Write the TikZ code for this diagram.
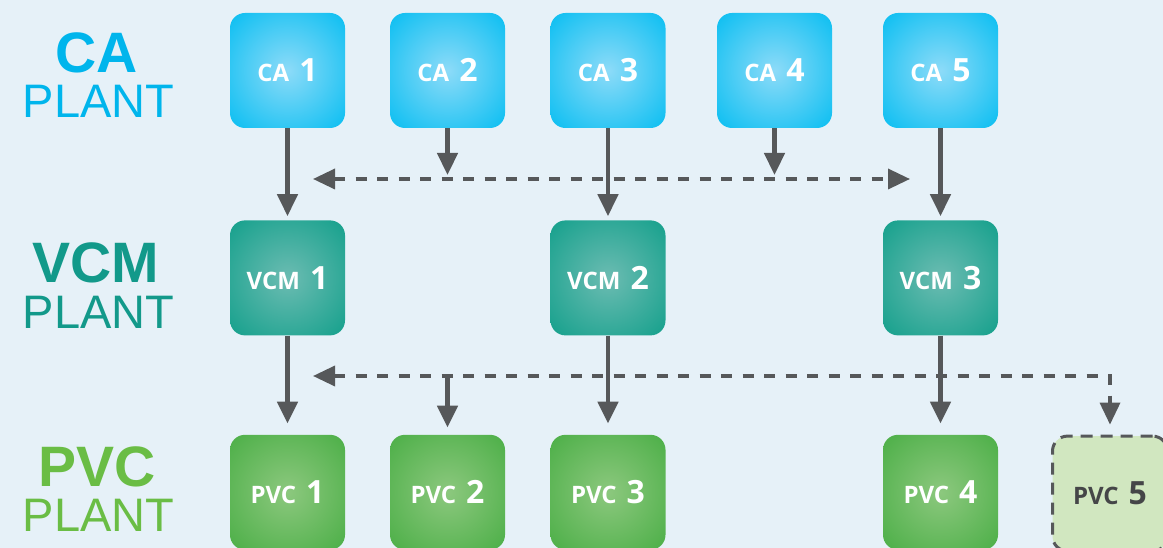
\documentclass[tikz,border=0pt]{standalone}
\usepackage{fontspec}
\setmainfont{Liberation Sans}
\newfontfamily\boxfont{Open Sans}
\usetikzlibrary{positioning,arrows.meta,shapes}

\definecolor{bgblue}{HTML}{E6F1F8}
\definecolor{caOut}{HTML}{00BCF1}
\definecolor{caIn}{HTML}{8DDBF8}
\definecolor{vcmOut}{HTML}{0E9E89}
\definecolor{vcmIn}{HTML}{6CBCB2}
\definecolor{pvcOut}{HTML}{47AD43}
\definecolor{pvcIn}{HTML}{8CC87E}
\definecolor{pvcPale}{HTML}{D1E7C0}
\definecolor{linegray}{HTML}{56585A}
\definecolor{caText}{HTML}{00B5EC}
\definecolor{vcmText}{HTML}{12998A}
\definecolor{pvcText}{HTML}{6ABD45}

\pgfdeclareradialshading{cashade}{\pgfpoint{0bp}{0bp}}{color(0bp)=(caIn); color(38bp)=(caOut); color(50bp)=(caOut)}
\pgfdeclareradialshading{vcmshade}{\pgfpoint{0bp}{0bp}}{color(0bp)=(vcmIn); color(38bp)=(vcmOut); color(50bp)=(vcmOut)}
\pgfdeclareradialshading{pvcshade}{\pgfpoint{0bp}{0bp}}{color(0bp)=(pvcIn); color(38bp)=(pvcOut); color(50bp)=(pvcOut)}

\newcommand{\unitname}[2]{{\fontsize{24}{24}\selectfont #1}\hspace{10pt}{\fontsize{32}{32}\selectfont #2}}

\tikzset{
    plantbox/.style={rectangle,rounded corners=15pt,minimum width=115pt,minimum height=115pt,
        inner sep=0pt,text=white,font=\boxfont\bfseries},
    cabox/.style={plantbox,shading=cashade},
    vcmbox/.style={plantbox,shading=vcmshade},
    pvcbox/.style={plantbox,shading=pvcshade},
    feed/.style={draw=linegray,line width=4.6pt,-{Triangle[width=20pt,length=22pt]},shorten >=4pt},
    share/.style={draw=linegray,line width=3.5pt,dash pattern=on 11pt off 10.5pt,
        {Triangle[width=20pt,length=22pt]}-{Triangle[width=20pt,length=22pt]}},
    bigtitle/.style={font=\fontsize{57}{57}\selectfont\bfseries},
    subtitle/.style={font=\fontsize{47}{47}\selectfont}
}

\begin{document}
\begin{tikzpicture}[x=1pt,y=-1pt]
    \useasboundingbox (0,0) rectangle (1163,548);
    \fill[bgblue] (0,0) rectangle (1163,548);

    % row titles
    \node[bigtitle,text=caText] (catitle) at (97,53) {CA};
    \node[subtitle,text=caText] (caplant) at (98.5,101) {PLANT};
    \node[bigtitle,text=vcmText] (vcmtitle) at (96,263) {VCM};
    \node[subtitle,text=vcmText] (vcmplant) at (98.5,312) {PLANT};
    \node[bigtitle,text=pvcText] (pvctitle) at (97,467) {PVC};
    \node[subtitle,text=pvcText] (pvcplant) at (98.5,515) {PLANT};

    % CA plants
    \node[cabox] (ca1) at (287.5,70.5) {\unitname{CA}{1}};
    \node[cabox] (ca2) at (447.5,70.5) {\unitname{CA}{2}};
    \node[cabox] (ca3) at (608,70.5) {\unitname{CA}{3}};
    \node[cabox] (ca4) at (774.5,70.5) {\unitname{CA}{4}};
    \node[cabox] (ca5) at (940.5,70.5) {\unitname{CA}{5}};

    % VCM plants
    \node[vcmbox,below=92pt of ca1] (vcm1) {\unitname{VCM}{1}};
    \node[vcmbox,below=92pt of ca3] (vcm2) {\unitname{VCM}{2}};
    \node[vcmbox,below=92pt of ca5] (vcm3) {\unitname{VCM}{3}};

    % PVC plants
    \node[pvcbox,below=99pt of vcm1] (pvc1) {\unitname{PVC}{1}};
    \node[pvcbox,below=99pt of vcm1,xshift=160pt] (pvc2) {\unitname{PVC}{2}};
    \node[pvcbox,below=99pt of vcm2] (pvc3) {\unitname{PVC}{3}};
    \node[pvcbox,below=99pt of vcm3] (pvc4) {\unitname{PVC}{4}};
    \node[plantbox,fill=pvcPale,draw=linegray,line width=3pt,dash pattern=on 12pt off 8pt,
        text=linegray!80!black,below=99pt of vcm3,xshift=169.5pt] (pvc5) {\unitname{PVC}{5}};

    % exchange lines
    \coordinate (caleft) at (313,179);
    \coordinate (caright) at (910,179);
    \coordinate (vcmleft) at (313,376);
    \coordinate (vcmright) at (1110,376);

    \path (caleft) edge [share] (caright);
    \draw[share,shorten >=10pt] (vcmleft) -- (vcmright) -- (pvc5.north);

    \path (ca1) edge [feed] (vcm1);
    \path (ca2) edge [feed] (ca2 |- caleft);
    \path (ca3) edge [feed] (vcm2);
    \path (ca4) edge [feed] (ca4 |- caleft);
    \path (ca5) edge [feed] (vcm3);

    \path (vcm1) edge [feed,shorten >=11pt] (pvc1);
    \path (pvc2 |- vcmleft) edge [feed,shorten >=7pt] (pvc2);
    \path (vcm2) edge [feed,shorten >=11pt] (pvc3);
    \path (vcm3) edge [feed,shorten >=11pt] (pvc4);
\end{tikzpicture}
\end{document}
